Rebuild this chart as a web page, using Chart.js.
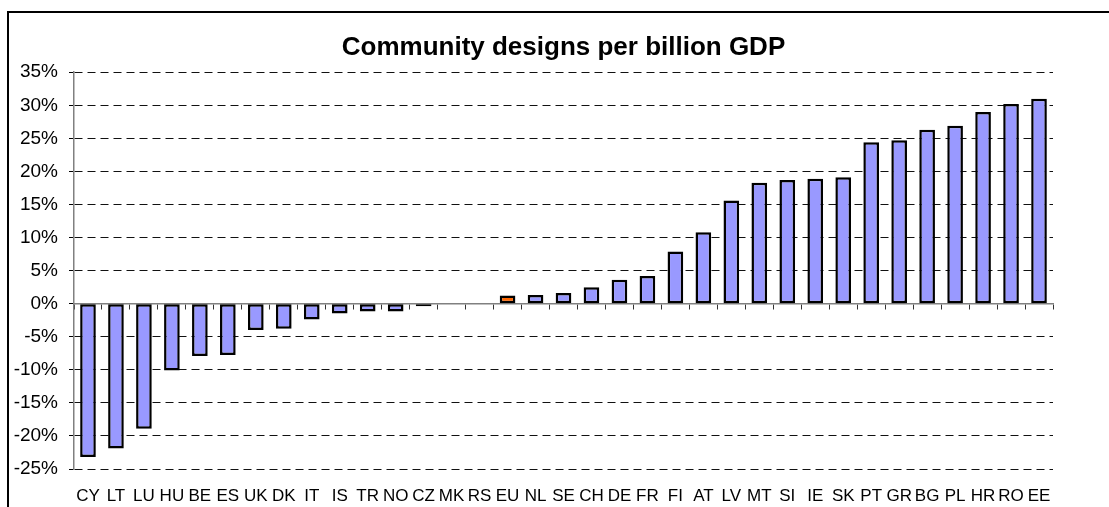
<!DOCTYPE html>
<html>
<head>
<meta charset="utf-8">
<title>Community designs per billion GDP</title>
<script src="https://cdn.jsdelivr.net/npm/chart.js@4"></script>
<style>
    html, body { margin: 0; padding: 0; background: #fff; overflow: hidden; }
    #frame {
        position: absolute; left: 7px; top: 11px; width: 1300px; height: 700px;
        border-top: 2px solid #000; border-left: 2px solid #000;
    }
    #wrap { position: absolute; left: 0; top: 0; width: 1109px; height: 507px; }
</style>
</head>
<body>
<div id="frame"></div>
<div id="wrap"><canvas id="designsChart"></canvas></div>
<script>
    // Chart data
    const countries = ['CY', 'LT', 'LU', 'HU', 'BE', 'ES', 'UK', 'DK', 'IT', 'IS', 'TR', 'NO', 'CZ', 'MK', 'RS',
        'EU', 'NL', 'SE', 'CH', 'DE', 'FR', 'FI', 'AT', 'LV', 'MT', 'SI', 'IE', 'SK', 'PT', 'GR', 'BG', 'PL', 'HR', 'RO', 'EE'];
    const growth = [-23.2, -21.9, -18.9, -10.1, -7.9, -7.75, -4.0, -3.8, -2.4, -1.5, -1.2, -1.2, -0.4, null, null,
        1.25, 1.3, 1.6, 2.5, 3.6, 4.2, 7.9, 10.8, 15.6, 18.3, 18.7, 18.9, 19.1, 24.4, 24.7, 26.3, 26.9, 29.0, 30.2, 31.0];
    const highlighted = ['EU'];
    const yTicks = [-25, -20, -15, -10, -5, 0, 5, 10, 15, 20, 25, 30, 35];

    const barColor = '#9999FF';
    const highlightColor = '#FF6600';

    new Chart(document.getElementById('designsChart'), {
        type: 'bar',
        data: {
            labels: countries,
            datasets: [{
                data: growth,
                backgroundColor: countries.map(c => highlighted.includes(c) ? highlightColor : barColor),
                borderColor: '#000',
                borderWidth: 2.5,
                borderSkipped: false,
                barPercentage: 0.56,
                categoryPercentage: 1
            }]
        },
        options: {
            responsive: true,
            maintainAspectRatio: false,
            animation: false,
            layout: { padding: { top: 0, right: 56, bottom: 0, left: 0 } },
            plugins: {
                legend: { display: false },
                tooltip: { enabled: false },
                title: {
                    display: true,
                    text: 'Community designs per billion GDP',
                    fullSize: false,
                    color: '#000',
                    font: { family: 'Liberation Sans, Arial, sans-serif', size: 26, weight: 'bold' },
                    padding: { top: 32, bottom: 9 }
                }
            },
            scales: {
                y: {
                    min: yTicks[0],
                    max: yTicks[yTicks.length - 1],
                    afterBuildTicks: scale => { scale.ticks = yTicks.map(v => ({ value: v })); },
                    afterFit: scale => { scale.width = 74; },
                    ticks: {
                        color: '#000',
                        padding: 11,
                        font: { family: 'Liberation Sans, Arial, sans-serif', size: 19 },
                        callback: v => v + '%'
                    },
                    grid: {
                        color: '#111',
                        lineWidth: 1,
                        tickLength: 5,
                        tickColor: '#000'
                    },
                    border: { color: '#808080', width: 1.5, dash: [8, 5] }
                },
                x: {
                    position: { y: 0 },
                    offset: true,
                    ticks: { display: false },
                    grid: {
                        offset: true,
                        drawOnChartArea: false,
                        tickLength: 5,
                        tickColor: '#333',
                        tickWidth: 1
                    },
                    border: { color: '#808080', width: 1.5 }
                },
                x2: {
                    type: 'category',
                    position: 'bottom',
                    offset: true,
                    afterFit: scale => { scale.height = 38; },
                    ticks: {
                        color: '#000',
                        padding: 17,
                        autoSkip: false,
                        maxRotation: 0,
                        font: { family: 'Liberation Sans, Arial, sans-serif', size: 17 }
                    },
                    grid: { display: false, drawTicks: false },
                    border: { display: false }
                }
            }
        }
    });
</script>
</body>
</html>
